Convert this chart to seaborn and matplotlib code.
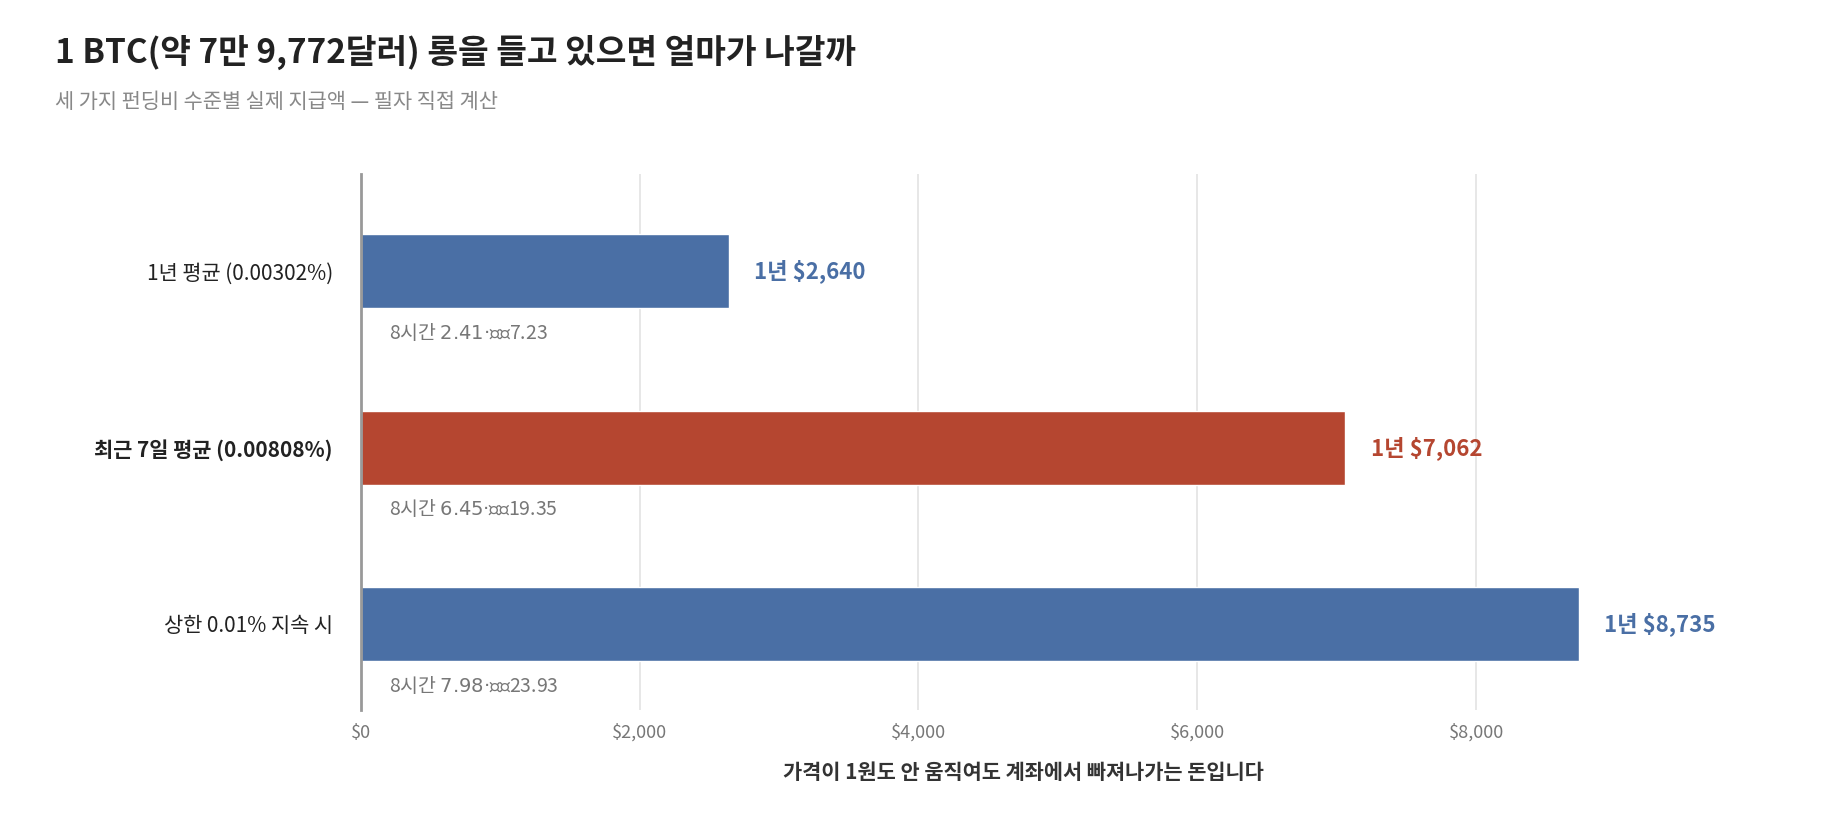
#!/usr/bin/env python3
# coding=utf-8
# BTC 롱 포지션 펀딩비 비교

from matplotlib import pyplot as plt
import pandas as pd
import seaborn as sns


# data: 펀딩비 수준별 1 BTC 지급액
def get_dataframe() -> pd.DataFrame:
    df = pd.DataFrame({"label": ["1년 평균 (0.00302%)", "최근 7일 평균 (0.00808%)", "상한 0.01% 지속 시"],
                       "year": [2640, 7062, 8735],
                       "h8": [2.41, 6.45, 7.98],
                       "day": [7.23, 19.35, 23.93]})
    return df


def plot_funding(df: pd.DataFrame, fig_location: str = None):
    sns.set_theme(style="whitegrid")
    plt.rcParams["font.family"] = ["Noto Sans CJK KR", "DejaVu Sans"]

    colors = ["#4a6fa5", "#b54630", "#4a6fa5"]
    fig = plt.figure(figsize=(18.4, 8.4), dpi=100)
    ax = fig.add_axes([0.196, 0.155, 0.72, 0.638])
    sns.barplot(x="year", y="label", data=df, hue="label", palette=colors,
                width=0.42, ax=ax, legend=False, saturation=1)
    ax.set_xlim(0, 9500)
    ax.set_ylim(2.487, -0.553)
    ax.set_xticks([0, 2000, 4000, 6000, 8000])
    ax.set_xticklabels(["$0", "$2,000", "$4,000", "$6,000", "$8,000"])
    ax.tick_params(axis="x", labelsize=13, labelcolor="#777777", length=0, pad=10)
    ax.tick_params(axis="y", labelsize=15, labelcolor="#222222", length=0, pad=20)
    ax.grid(axis="y", visible=False)
    ax.grid(axis="x", color="#e3e3e3", linewidth=1.2)
    for s in ["top", "right", "bottom"]:
        ax.spines[s].set_visible(False)
    ax.spines["left"].set_color("#999999")
    ax.spines["left"].set_linewidth(2)
    ax.set(ylabel="")
    ax.set_xlabel("가격이 1원도 안 움직여도 계좌에서 빠져나가는 돈입니다", fontsize=15,
                  fontweight="bold", color="#333333", labelpad=14)
    ax.get_yticklabels()[1].set_fontweight("bold")

    # value labels
    for i, row in df.iterrows():
        ax.text(row.year + 180, i, "1년 ${:,}".format(row.year), va="center",
                fontsize=16, fontweight="bold", color=colors[i])
        ax.text(200, i + 0.35, "8시간 ${:.2f} · 하루 ${:.2f}".format(row.h8, row.day),
                va="center", fontsize=14, color="#777777")

    fig.text(0.03, 0.925, "1 BTC(약 7만 9,772달러) 롱을 들고 있으면 얼마가 나갈까",
             fontsize=24, fontweight="bold", color="#222222")
    fig.text(0.03, 0.872, "세 가지 펀딩비 수준별 실제 지급액 — 필자 직접 계산",
             fontsize=15, color="#888888")

    if fig_location is not None:
        fig.savefig(fig_location)


if __name__ == "__main__":
    df = get_dataframe()
    plot_funding(df, fig_location="out.png")
